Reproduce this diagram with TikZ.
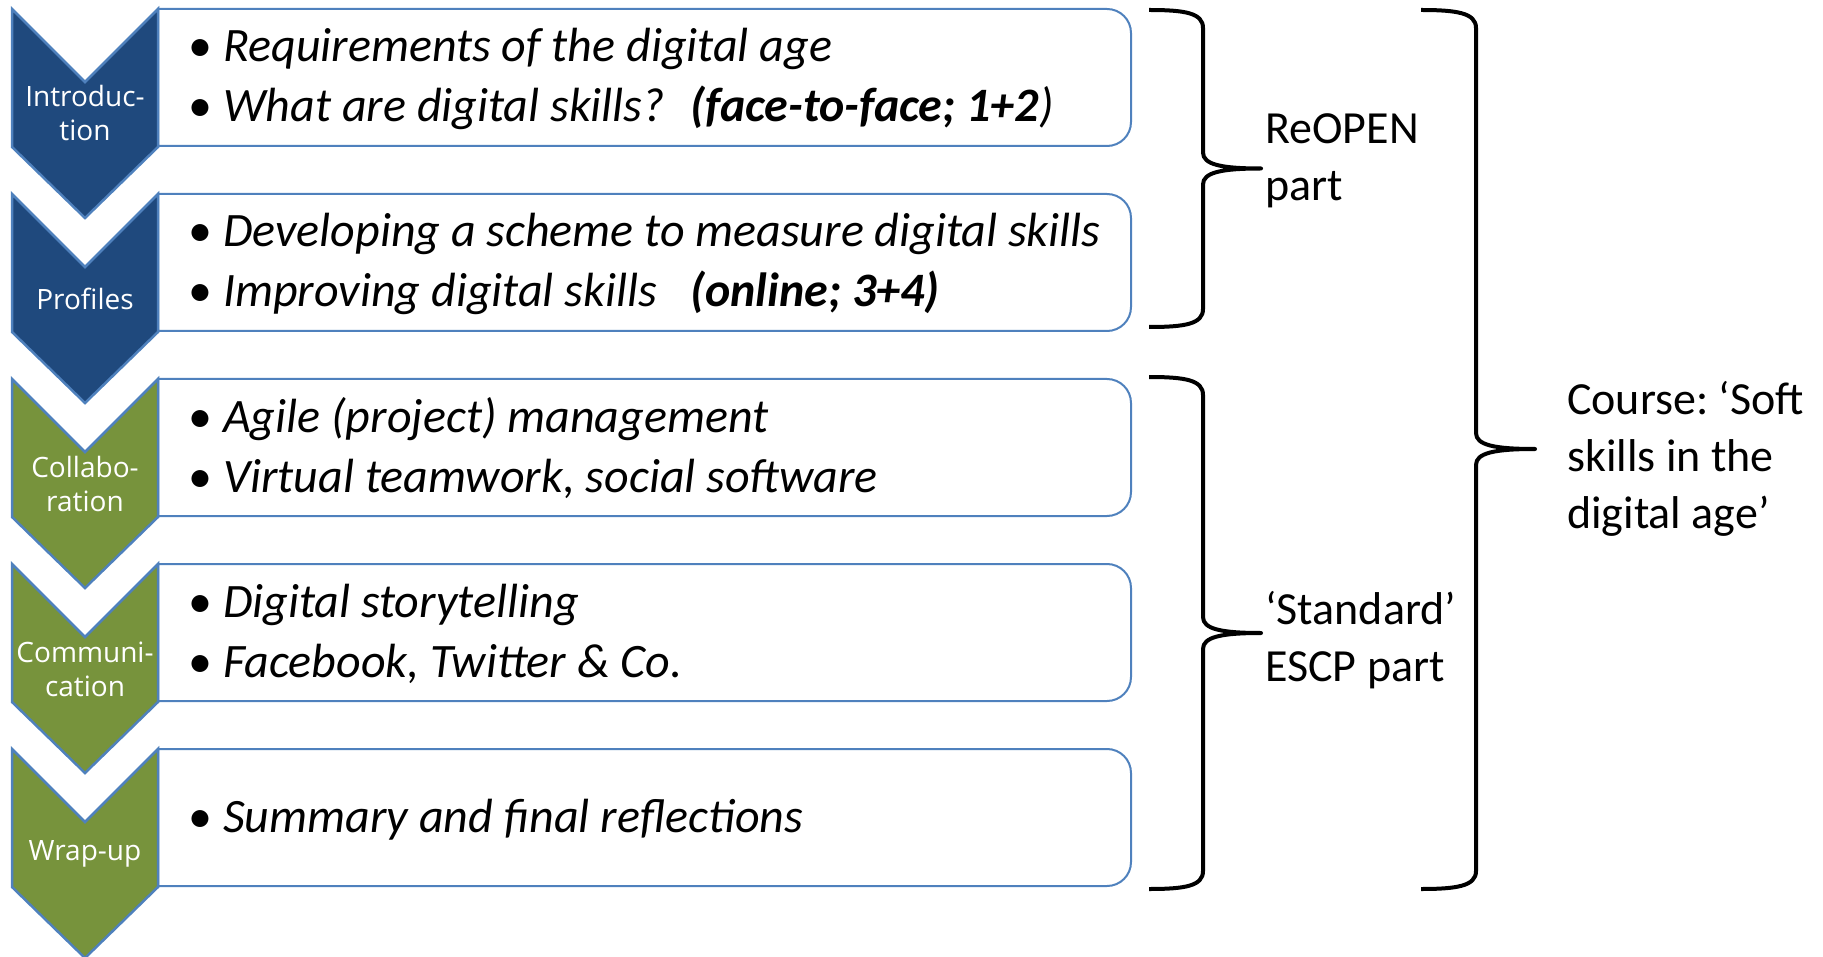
\documentclass[tikz,border=0pt]{standalone}
\usepackage{fontspec}
\setmainfont{Carlito}
\newfontfamily\labfont{Open Sans}
\definecolor{chevblue}{HTML}{1F497D}
\definecolor{chevgreen}{HTML}{77933C}
\definecolor{edgeblue}{HTML}{4F81BD}
\frenchspacing
\newcommand\bul{\makebox[35pt][l]{\upshape\textbullet}}
\newcommand\mybrace[6]{% x0 xv xt y0 ym y1
  \draw[bracestyle] (#1,#4) .. controls (#1+36,#4) and (#2,#4+3) .. (#2,#4+18)
    -- (#2,#5-16) .. controls (#2,#5-4) and (#2+18,#5) .. (#3,#5)
    .. controls (#2+18,#5) and (#2,#5+4) .. (#2,#5+16)
    -- (#2,#6-18) .. controls (#2,#6-3) and (#1+36,#6) .. (#1,#6);}
\begin{document}
\begin{tikzpicture}[x=1pt,y=-1pt,
  boxstyle/.style={draw=edgeblue,line width=2pt,fill=white},
  chevstyle/.style={draw=edgeblue,line width=2.5pt,line join=miter},
  chevlabel/.style={text=white,font=\labfont\fontsize{28}{34}\selectfont,align=center,inner sep=0pt},
  itemtext/.style={font=\fontsize{48}{60}\selectfont\itshape,align=left,inner sep=0pt,anchor=base west},
  sidetext/.style={font=\fontsize{46}{57}\selectfont,align=left,inner sep=0pt,anchor=base west},
  bracestyle/.style={draw=black,line width=4pt,line cap=butt,line join=round}]
\useasboundingbox (0,0) rectangle (1823,957);
% boxes
\foreach \T in {9,194,379,564,749}{
  \draw[boxstyle] (158,\T) -- (1107,\T) .. controls (1120.3,\T) and (1131,\T+10.7) .. (1131,\T+24)
    -- (1131,\T+113) .. controls (1131,\T+126.3) and (1120.3,\T+137) .. (1107,\T+137) -- (158,\T+137) -- cycle;
}
% chevrons
\foreach \T/\c in {9/chevblue,194/chevblue,379/chevgreen,564/chevgreen,749/chevgreen}{
  \draw[chevstyle,fill=\c] (12,\T) -- (85,\T+73) -- (158,\T) -- (158,\T+138) -- (85,\T+209) -- (12,\T+138) -- cycle;
}
% chevron labels
\node[chevlabel] (l1) at (85,113) {Introduc-\\tion};
\node[chevlabel] (l2) at (85,299) {Profiles};
\node[chevlabel] (l3) at (85,484) {Collabo-\\ration};
\node[chevlabel] (l4) at (85,669) {Communi-\\cation};
\node[chevlabel] (l5) at (85,854) {Wrap-up};
% items (anchor = baseline of last line)
\node[itemtext] (t1) at (188,122) {\bul Requirements of the digital age\\
  \bul\makebox[467pt][l]{What are digital skills?}\textbf{(face-to-face; 1+2}{)}};
\node[itemtext] (t2) at (188,307) {\bul Developing a scheme to measure digital skills\\
  \bul\makebox[467pt][l]{Improving digital skills}\textbf{(online; 3+4)}};
\node[itemtext] (t3) at (188,492) {\bul Agile (project) management\\
  \bul Virtual teamwork, social software};
\node[itemtext] (t4) at (188,677) {\bul Digital storytelling\\
  \bul Facebook, Twitter \& Co.};
\node[itemtext] (t5) at (188,832) {\bul Summary and final reflections};
% braces
\mybrace{1149}{1203}{1261}{10}{168.5}{327}
\mybrace{1149}{1203}{1261}{377}{633}{889}
\mybrace{1421}{1476}{1535}{10}{449}{889}
% side texts
\node[sidetext] (s1) at (1265,201) {ReOPEN\\part};
\node[sidetext] (s2) at (1265,681) {‘Standard’\\ESCP part};
\node[sidetext] (s3) at (1567,528) {Course: ‘Soft\\skills in the\\digital age’};
\end{tikzpicture}
\end{document}
